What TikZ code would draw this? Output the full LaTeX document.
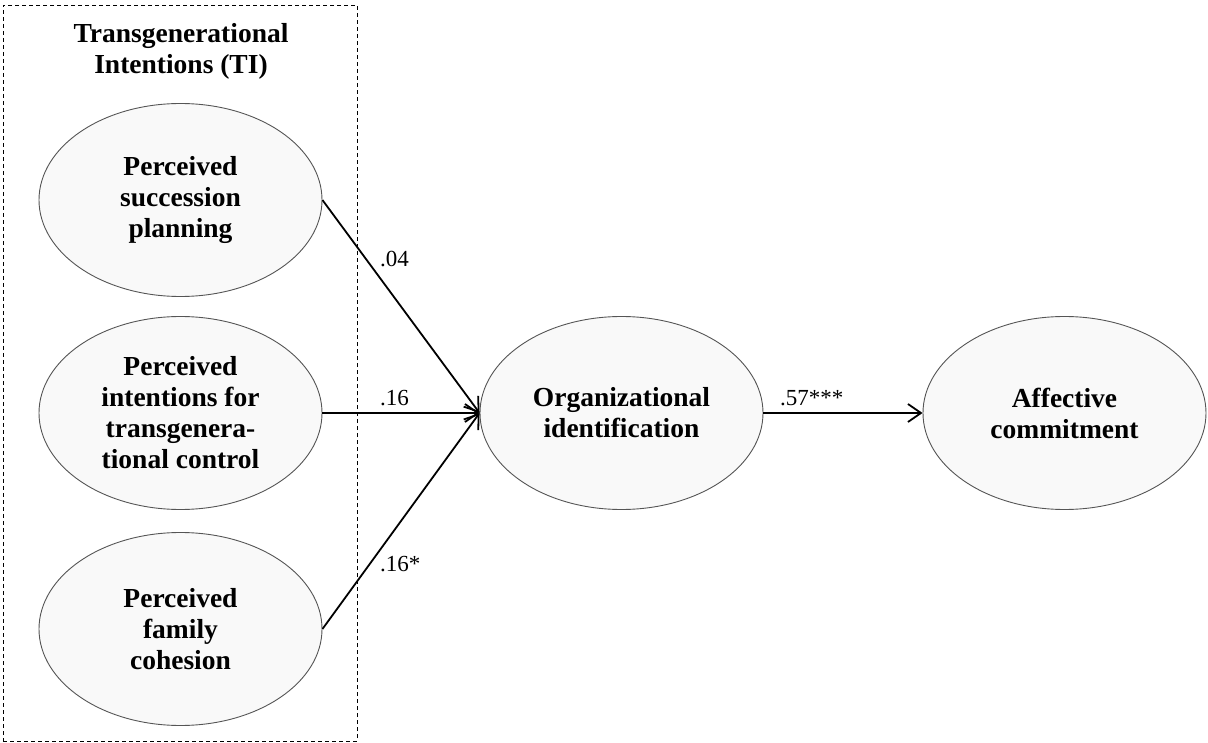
\documentclass[tikz,border=0pt]{standalone}
\usepackage{fontspec}
\setmainfont{Liberation Serif}
\usetikzlibrary{shapes.geometric,arrows.meta}
\definecolor{latentfill}{HTML}{F9F9F9}
\definecolor{latentedge}{HTML}{555555}
\begin{document}
\begin{tikzpicture}[x=1pt,y=-1pt,
  latent/.style={ellipse, draw=latentedge, line width=0.9pt, fill=latentfill,
    minimum width=283pt, minimum height=193pt, inner sep=0pt, align=center,
    font=\fontsize{27.5}{31}\selectfont\bfseries},
  path/.style={line width=1.8pt, -{Straight Barb[length=13pt,width=18pt,line width=1.8pt]}},
  coef/.style={inner sep=0pt, font=\fontsize{23}{25}\selectfont},
  tibox/.style={draw, line width=0.8pt, dash pattern=on 4pt off 3pt,
    minimum width=354pt, minimum height=736pt, inner sep=0pt}]
  \useasboundingbox (0,0) rectangle (1208,743);

  % grouping frame for the three TI dimensions
  \node[tibox] (ti) at (180,373) {};
  \node[align=center, inner sep=0pt, font=\fontsize{27.5}{31}\selectfont\bfseries]
    (tititle) at (181,51) {Transgenerational\\Intentions (TI)};

  % latent constructs
  \node[latent] (psp) at (180.5,200) {Perceived\\succession\\planning};
  \node[latent] (pitc) at (180.5,413) {Perceived\\intentions for\\transgenera-\\tional control};
  \node[latent] (pfc) at (180.5,629) {Perceived\\family\\cohesion};
  \node[latent] (oi) at (621.5,413) {Organizational\\identification};
  \node[latent] (ac) at (1064.5,413) {Affective\\commitment};

  % structural paths
  \draw[path] (psp.east) -- (oi.west);
  \draw[path] (pitc.east) -- (oi.west);
  \draw[path] (pfc.east) -- (oi.west);
  \draw[path] (oi.east) -- (ac.west);

  % path coefficients
  \node[coef, anchor=base west] (c1) at (380,267) {.04};
  \node[coef, anchor=base west] (c2) at (380,405) {.16};
  \node[coef, anchor=base west] (c3) at (380,571) {.16*};
  \node[coef, anchor=base west] (c4) at (780,406) {.57***};
\end{tikzpicture}
\end{document}
